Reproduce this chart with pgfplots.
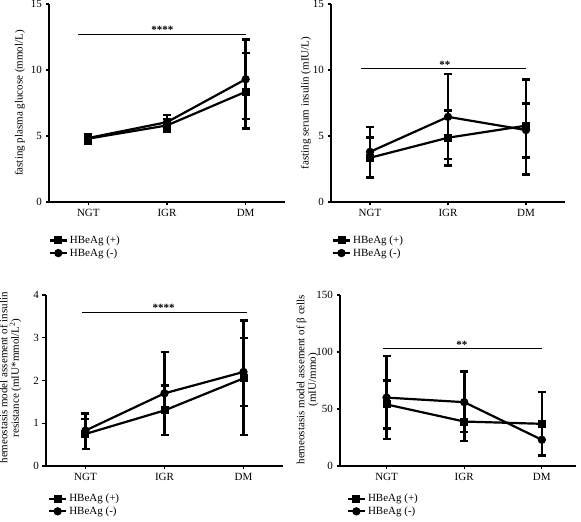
\documentclass[border=0pt]{standalone}
\usepackage{fontspec}
\setmainfont{Liberation Serif}
\usepackage{pgfplots}
\pgfplotsset{compat=1.18}
\tikzset{sigstar/.style={font=\fontsize{11}{12}\selectfont\bfseries, anchor=base}}
\pgfplotsset{
  myax/.style={
    scale only axis,
    axis x line*=bottom, axis y line*=left,
    axis line style={-, line width=1.6pt},
    every outer x axis line/.append style={-},
    every outer y axis line/.append style={-},
    tick align=outside, major tick length=3.5pt,
    tick style={line width=1.3pt, black},
    xtick={0,1,2}, xticklabels={NGT,IGR,DM},
    /pgf/number format/assume math mode=true,
    ticklabel style={font=\fontsize{11}{12}\selectfont},
    label style={font=\fontsize{11}{11.5}\selectfont},
    clip=false,
    legend style={draw=none, fill=none, anchor=north west,
      font=\fontsize{11}{12}\selectfont, row sep=-0.5pt},
    legend cell align=left,
  },
  sq/.style={black, line width=2.2pt, mark=square*, mark size=2.9pt, mark options={solid},
    error bars/.cd, y dir=both, y explicit,
    error bar style={line width=2.6pt},
    error mark options={rotate=90, mark size=4pt, line width=2.5pt}},
  ci/.style={black, line width=2.2pt, mark=*, mark size=3pt, mark options={solid},
    error bars/.cd, y dir=both, y explicit,
    error bar style={line width=2.6pt},
    error mark options={rotate=90, mark size=4pt, line width=2.5pt}},
  sig/.style={black, line width=1.2pt, no marks, forget plot},
}
\begin{document}
\begin{tikzpicture}[x=1pt,y=1pt]
\useasboundingbox (0,0) rectangle (581,522);
% Panel 1
\begin{axis}[myax, at={(49pt,320pt)}, anchor=south west, width=236pt, height=198pt,
  xmin=-0.5, xmax=2.5, ymin=0, ymax=15, ytick={0,5,10,15},
  ylabel={fasting plasma glucose (mmol/L)},
  ylabel style={at={(axis description cs:-0.123,0.5)}, anchor=center},
  legend style={at={(axis description cs:-0.015,-0.15)}}]
\addplot[sig] coordinates {(-0.13,12.7) (2,12.7)};
\node[sigstar] at (axis cs:0.94,12.75) {****};
\addplot[sq] coordinates {(0,4.8) +- (0,0.35) (1,5.8) +- (0,0.5) (2,8.35) += (0,2.95) -= (0,2.8)};
\addplot[ci] coordinates {(0,4.85) +- (0,0.3) (1,6.05) +- (0,0.55) (2,9.3) +- (0,3.0)};
\legend{HBeAg (+), HBeAg (-)}
\end{axis}
% Panel 2
\begin{axis}[myax, at={(331pt,320pt)}, anchor=south west, width=234pt, height=198pt,
  xmin=-0.5, xmax=2.5, ymin=0, ymax=15, ytick={0,5,10,15},
  ylabel={fasting serum insulin (mIU/L)},
  ylabel style={at={(axis description cs:-0.107,0.5)}, anchor=center},
  legend style={at={(axis description cs:-0.01,-0.15)}}]
\addplot[sig] coordinates {(-0.12,10.1) (2,10.1)};
\node[sigstar] at (axis cs:0.96,10.15) {**};
\addplot[sq] coordinates {(0,3.35) += (0,1.55) -= (0,1.5) (1,4.87) += (0,2.05) -= (0,2.12) (2,5.78) += (0,1.69) -= (0,2.4)};
\addplot[ci] coordinates {(0,3.8) += (0,1.9) -= (0,1.95) (1,6.45) += (0,3.25) -= (0,3.2) (2,5.45) += (0,3.84) -= (0,3.35)};
\legend{HBeAg (+), HBeAg (-)}
\end{axis}
% Panel 3
\begin{axis}[myax, at={(46pt,56pt)}, anchor=south west, width=237pt, height=171pt,
  xmin=-0.5, xmax=2.5, ymin=0, ymax=4, ytick={0,1,2,3,4},
  ylabel={hemeostasis model assement of insulin\\resistance (mIU*mmol/L\textsuperscript{2})},
  ylabel style={at={(axis description cs:-0.15,0.515)}, anchor=center, align=center},
  legend style={at={(axis description cs:-0.005,-0.14)}}]
\addplot[sig] coordinates {(-0.05,3.6) (2.04,3.6)};
\node[sigstar] at (axis cs:0.99,3.62) {****};
\addplot[sq] coordinates {(0,0.75) +- (0,0.35) (1,1.3) += (0,0.58) -= (0,0.57) (2,2.05) += (0,0.95) -= (0,0.65)};
\addplot[ci] coordinates {(0,0.83) += (0,0.4) -= (0,0.43) (1,1.7) +- (0,0.97) (2,2.2) += (0,1.2) -= (0,1.48)};
\legend{HBeAg (+), HBeAg (-)}
\end{axis}
% Panel 4
\begin{axis}[myax, at={(340pt,56pt)}, anchor=south west, width=236pt, height=171pt,
  xmin=-0.6, xmax=2.44, ymin=0, ymax=150, ytick={0,50,100,150},
  ylabel={hemeostasis model assement of β cells\\(mIU/mmo)},
  ylabel style={at={(axis description cs:-0.138,0.505)}, anchor=center, align=center},
  legend style={at={(axis description cs:0.015,-0.14)}}]
\addplot[sig] coordinates {(-0.05,103) (2,103)};
\node[sigstar] at (axis cs:0.97,103.5) {**};
\addplot[sq] coordinates {(0,54) +- (0,21) (1,39) +- (0,17) (2,37) +- (0,28)};
\addplot[ci] coordinates {(0,60) +- (0,36.5) (1,56) += (0,27) -= (0,26) (2,23) +- (0,14)};
\legend{HBeAg (+), HBeAg (-)}
\end{axis}
\end{tikzpicture}
\end{document}
